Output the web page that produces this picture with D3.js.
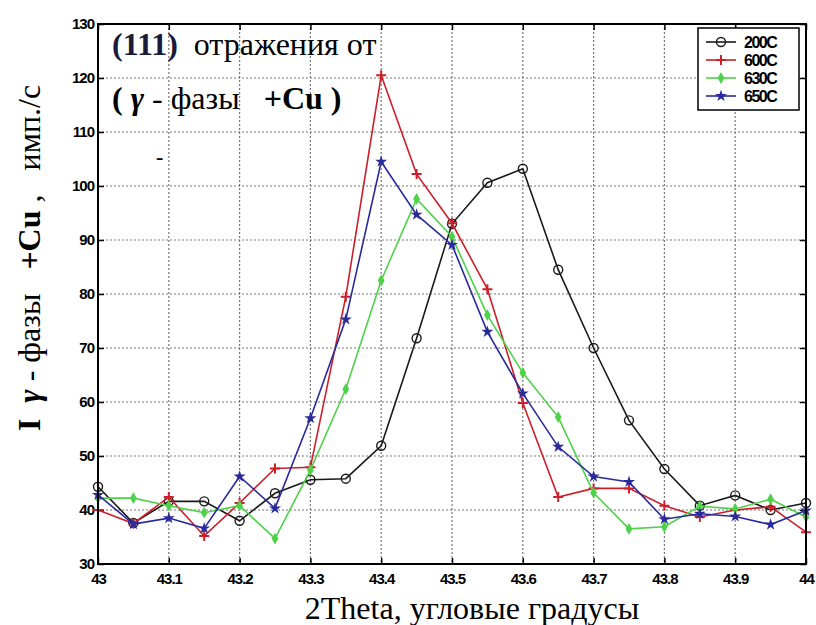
<!DOCTYPE html>
<html>
<head>
<meta charset="utf-8">
<script src="https://cdn.jsdelivr.net/npm/d3@7"></script>
<style>
  body { margin: 0; background: #fff; }
  svg { display: block; }
  text { white-space: pre; }
</style>
</head>
<body>
<div id="chart-area"></div>
<script>
// 2theta positions
const theta = [43, 43.05, 43.1, 43.15, 43.2, 43.25, 43.3, 43.35, 43.4, 43.45, 43.5,
               43.55, 43.6, 43.65, 43.7, 43.75, 43.8, 43.85, 43.9, 43.95, 44]

const s200 = [44.3, 37.6, 41.6, 41.6, 38.0, 43.1, 45.6, 45.8, 51.9, 71.8, 93.0,
              100.6, 103.2, 84.5, 70.0, 56.6, 47.6, 40.8, 42.7, 40.0, 41.3]
const s600 = [40.0, 37.5, 42.4, 35.2, 41.3, 47.7, 47.9, 79.5, 120.5, 102.2, 93.1,
              80.9, 59.8, 42.4, 44.0, 44.0, 40.8, 38.7, 40.0, 40.6, 35.9]
const s630 = [42.2, 42.2, 40.8, 39.5, 40.8, 34.7, 47.4, 62.4, 82.5, 97.6, 90.6,
              76.1, 65.4, 57.2, 43.2, 36.5, 36.9, 40.7, 40.2, 42.0, 38.7]
const s650 = [42.8, 37.4, 38.5, 36.6, 46.2, 40.3, 57.0, 75.3, 104.5, 94.7, 89.1,
              73.0, 61.6, 51.7, 46.2, 45.2, 38.3, 39.3, 38.8, 37.3, 39.9]

const seriesNames = ["200C", "600C", "630C", "650C"]
const seriesColors = ["#1a1a1a", "#cc1f2a", "#4fd14a", "#2a2a9c"]
const seriesValues = [s200, s600, s630, s650]

const xTicks = [43, 43.1, 43.2, 43.3, 43.4, 43.5, 43.6, 43.7, 43.8, 43.9, 44]
const yTicks = [30, 40, 50, 60, 70, 80, 90, 100, 110, 120, 130]

const svgWidth = 816
const svgHeight = 625
const margin = { left: 98, right: 10, top: 24, bottom: 61 }
const chartWidth = svgWidth - margin.left - margin.right
const chartHeight = svgHeight - margin.top - margin.bottom

const xScale = d3.scaleLinear()
    .domain([43, 44])
    .range([0, chartWidth])

const yScale = d3.scaleLinear()
    .domain([30, 130])
    .range([chartHeight, 0])

const svg = d3.select("#chart-area")
    .append("svg")
    .attr("width", svgWidth)
    .attr("height", svgHeight)

const chart = svg.append("g")
    .attr("transform", `translate(${margin.left},${margin.top})`)

// dotted grid
chart.append("g")
    .selectAll("line")
    .data(xTicks.slice(1, -1))
    .join("line")
    .attr("x1", d => xScale(d)).attr("x2", d => xScale(d))
    .attr("y1", 0).attr("y2", chartHeight)
    .attr("stroke", "#777").attr("stroke-width", 1.2)
    .attr("stroke-dasharray", "2,2")

chart.append("g")
    .selectAll("line")
    .data(yTicks.slice(1, -1))
    .join("line")
    .attr("x1", 0).attr("x2", chartWidth)
    .attr("y1", d => yScale(d)).attr("y2", d => yScale(d))
    .attr("stroke", "#777").attr("stroke-width", 1.2)
    .attr("stroke-dasharray", "2,2")

// axes, matlab style ticks pointing inward
const xAxis = chart.append("g")
    .attr("transform", `translate(0,${chartHeight})`)
    .call(d3.axisBottom(xScale).tickValues(xTicks).tickSize(-6).tickPadding(9)
        .tickFormat(d3.format("")))
xAxis.select(".domain").remove()

const yAxis = chart.append("g")
    .call(d3.axisLeft(yScale).tickValues(yTicks).tickSize(-6).tickPadding(4))
yAxis.select(".domain").remove()

chart.append("g")
    .call(d3.axisTop(xScale).tickValues(xTicks).tickSize(-6).tickFormat(""))
    .select(".domain").remove()
chart.append("g")
    .attr("transform", `translate(${chartWidth},0)`)
    .call(d3.axisRight(yScale).tickValues(yTicks).tickSize(-6).tickFormat(""))
    .select(".domain").remove()

chart.selectAll(".tick line").attr("stroke", "#000").attr("stroke-width", 1.5)
chart.selectAll(".tick text")
    .attr("fill", "#000")
    .attr("font-family", "Liberation Sans, Arial, sans-serif")
    .attr("font-weight", "bold")
    .attr("font-size", 15)
    .attr("letter-spacing", "-1")

// series
const lineGen = d3.line()
    .x((d, i) => xScale(theta[i]))
    .y(d => yScale(d))

function drawMarker(g, k, x, y) {
    const c = seriesColors[k]
    if (k === 0) {
        g.append("circle").attr("cx", x).attr("cy", y).attr("r", 4.5)
            .attr("fill", "none").attr("stroke", c).attr("stroke-width", 1.4)
    } else if (k === 1) {
        g.append("path").attr("d", `M${x-5},${y}H${x+5}M${x},${y-5}V${y+5}`)
            .attr("stroke", c).attr("stroke-width", 2)
    } else if (k === 2) {
        g.append("path").attr("d", d3.symbol(d3.symbolDiamond, 40)())
            .attr("transform", `translate(${x},${y})`).attr("fill", c)
    } else {
        g.append("path").attr("d", d3.symbol(d3.symbolStar, 45)())
            .attr("transform", `translate(${x},${y})`).attr("fill", c)
    }
}

seriesValues.forEach((vals, k) => {
    chart.append("path")
        .attr("d", lineGen(vals))
        .attr("fill", "none")
        .attr("stroke", seriesColors[k])
        .attr("stroke-width", 1.6)
    const mg = chart.append("g")
    vals.forEach((v, i) => drawMarker(mg, k, xScale(theta[i]), yScale(v)))
})

// frame
chart.append("rect")
    .attr("width", chartWidth).attr("height", chartHeight)
    .attr("fill", "none").attr("stroke", "#000").attr("stroke-width", 2)

// legend
const legend = chart.append("g")
    .attr("transform", `translate(${chartWidth - 108},4)`)
legend.append("rect")
    .attr("width", 101).attr("height", 82)
    .attr("fill", "#fff").attr("stroke", "#000").attr("stroke-width", 1.5)
seriesNames.forEach((name, k) => {
    const y = 14 + k * 18
    legend.append("line").attr("x1", 8).attr("x2", 38).attr("y1", y).attr("y2", y)
        .attr("stroke", seriesColors[k]).attr("stroke-width", 1.6)
    drawMarker(legend, k, 23, y)
    legend.append("text").attr("x", 46).attr("y", y + 5.5)
        .attr("font-family", "Liberation Sans, Arial, sans-serif")
        .attr("font-weight", "bold").attr("font-size", 16)
        .attr("letter-spacing", "-1.5")
        .text(name)
})

// annotation inside plot
const serif = "Liberation Serif, Times New Roman, serif"
const t1 = chart.append("text")
    .attr("x", 14).attr("y", 31)
    .attr("font-family", serif).attr("font-size", 32)
t1.append("tspan").attr("font-weight", "bold").attr("fill", "#1a1a3a").text("(111)")
t1.append("tspan").text("  отражения от")

const t2 = chart.append("text")
    .attr("x", 14).attr("y", 85)
    .attr("font-family", serif).attr("font-size", 32)
t2.append("tspan").attr("font-weight", "bold").text("( ")
t2.append("tspan").attr("font-weight", "bold").attr("font-style", "italic").text("γ")
t2.append("tspan").text(" - фазы   ")
t2.append("tspan").attr("font-weight", "bold").text("+Cu")
t2.append("tspan").attr("font-weight", "bold").text(" )")

chart.append("text")
    .attr("x", 58).attr("y", 140)
    .attr("font-family", serif).attr("font-size", 22).attr("font-weight", "bold")
    .text("-")

// axis titles
svg.append("text")
    .attr("x", 472).attr("y", 619)
    .attr("text-anchor", "middle")
    .attr("font-family", serif).attr("font-size", 32)
    .text("2Theta, угловые градусы")

const yl = svg.append("text")
    .attr("transform", `translate(40,${258}) rotate(-90)`)
    .attr("text-anchor", "middle")
    .attr("font-family", serif).attr("font-size", 32)
yl.append("tspan").attr("font-weight", "bold").text("I  ")
yl.append("tspan").attr("font-weight", "bold").attr("font-style", "italic").text("γ")
yl.append("tspan").text(" - фазы   ")
yl.append("tspan").attr("font-weight", "bold").text("+Cu")
yl.append("tspan").text(" ,   имп./с")
</script>
</body>
</html>
